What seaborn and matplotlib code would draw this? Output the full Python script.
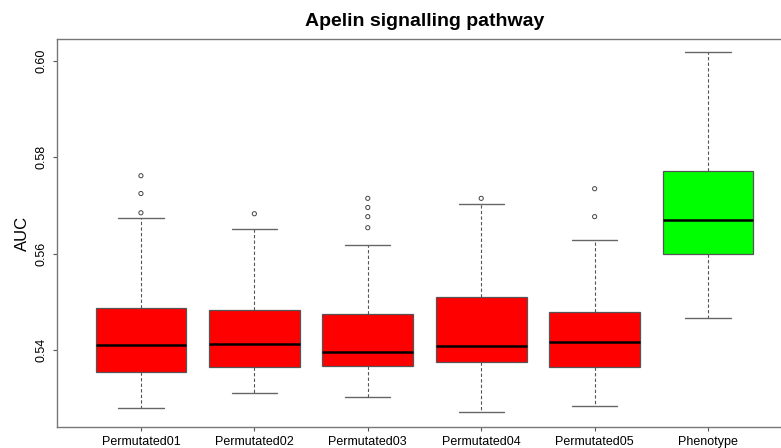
import pandas as pd
import numpy as np
import matplotlib.pyplot as plt
import seaborn as sns

sns.set_theme(style='white')
plt.rcParams['font.family'] = ['Liberation Sans', 'DejaVu Sans']
plt.rcParams['text.color'] = 'black'
plt.rcParams['axes.labelcolor'] = 'black'
plt.rcParams['xtick.color'] = 'black'
plt.rcParams['ytick.color'] = 'black'

# five-number summaries (lower whisker, Q1, median, Q3, upper whisker)
groups = ['Permutated01', 'Permutated02', 'Permutated03', 'Permutated04', 'Permutated05', 'Phenotype']
low_whisker = [0.5279, 0.5310, 0.5302, 0.5271, 0.5283, 0.5467]
q1 = [0.5354, 0.5365, 0.5367, 0.5375, 0.5365, 0.5600]
median = [0.5410, 0.5412, 0.5396, 0.5408, 0.5417, 0.5669]
q3 = [0.5488, 0.5483, 0.5475, 0.5510, 0.5479, 0.5771]
high_whisker = [0.5675, 0.5652, 0.5619, 0.5704, 0.5629, 0.6019]

# outliers
outlier_group = ['Permutated01', 'Permutated01', 'Permutated01', 'Permutated02',
                 'Permutated03', 'Permutated03', 'Permutated03', 'Permutated03',
                 'Permutated04', 'Permutated05', 'Permutated05']
outlier_auc = [0.5762, 0.5725, 0.5685, 0.5683,
               0.5715, 0.5696, 0.5677, 0.5654,
               0.5715, 0.5735, 0.5677]

colors = ['#FF0000'] * 5 + ['#00FF00']

rows = []
for i, g in enumerate(groups):
    for v in [low_whisker[i], q1[i], median[i], q3[i], high_whisker[i]]:
        rows.append({'group': g, 'AUC': v})
df = pd.DataFrame(rows)
out = pd.DataFrame({'group': outlier_group, 'AUC': outlier_auc})

fig = plt.figure(figsize=(7.81, 4.48), dpi=100)
ax = fig.add_axes([57 / 781, 21 / 448, 735 / 781, 388 / 448])

sns.boxplot(data=df, x='group', y='AUC', hue='group', palette=colors, legend=False,
            order=groups, whis=(0, 100), width=0.8, saturation=1, ax=ax,
            boxprops=dict(edgecolor='#555555', linewidth=0.9),
            medianprops=dict(color='black', linewidth=1.8),
            whiskerprops=dict(color='#555555', linewidth=0.8, linestyle=(0, (3, 2))),
            capprops=dict(color='#666666', linewidth=1.0),
            showfliers=False)
sns.scatterplot(data=out, x='group', y='AUC', ax=ax, marker='o', s=9,
                facecolor='none', edgecolor='#444444', linewidth=0.7, legend=False)

ax.set_xlim(-0.74, 5.74)
ax.set_ylim(0.524, 0.6046)
ax.set_yticks([0.54, 0.56, 0.58, 0.60])
ax.set_yticklabels(['0.54', '0.56', '0.58', '0.60'], rotation=90, va='center')
ax.tick_params(axis='both', which='both', length=3, width=0.8, color='#555555',
               labelsize=9, bottom=True, left=True)
ax.set_xlabel('')
ax.set_ylabel('AUC', fontsize=12)
ax.yaxis.set_label_coords(-0.037, 0.5)
for s in ax.spines.values():
    s.set_color('#777777')
    s.set_linewidth(1.0)
ax.set_title('Apelin signalling pathway', fontsize=14, fontweight='bold', pad=9)

fig.savefig('out.png', dpi=100)
